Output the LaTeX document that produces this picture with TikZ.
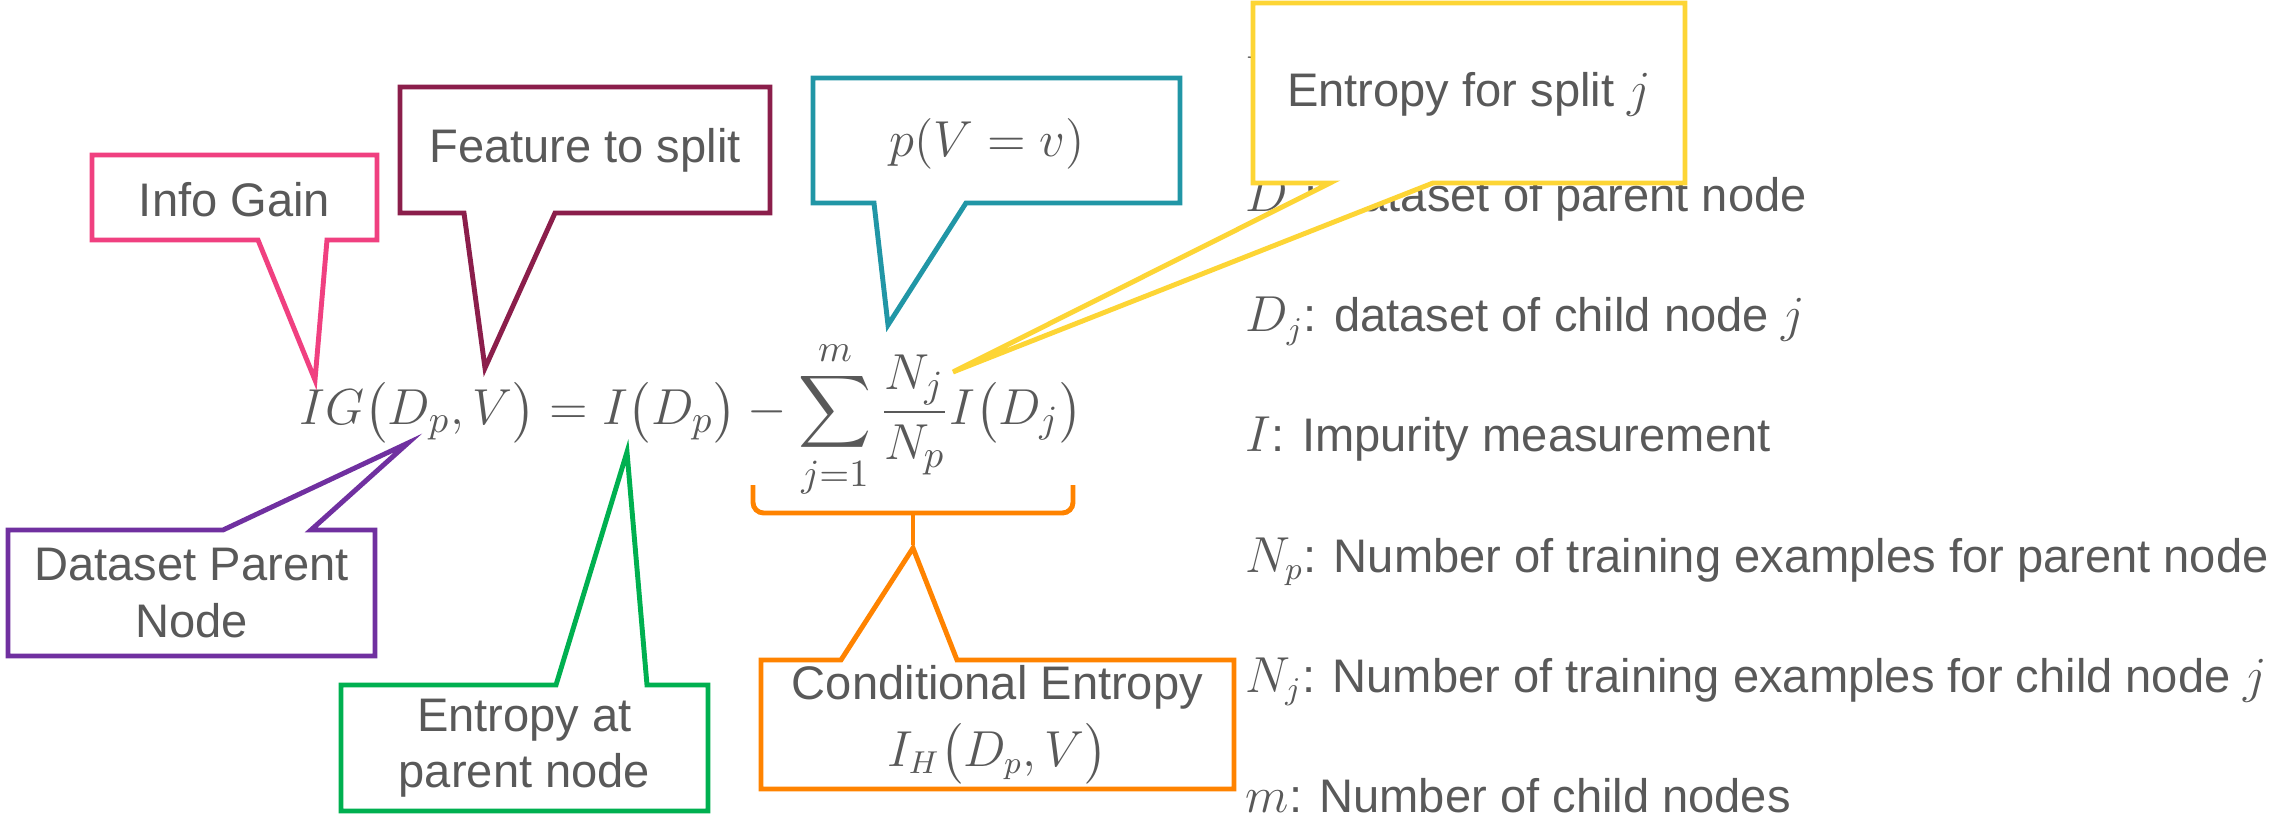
\documentclass[tikz,border=0pt]{standalone}
\usepackage{amsmath}
\usepackage{fontspec}
\setmainfont{Liberation Sans}
\usetikzlibrary{calc}
\definecolor{cInk}{HTML}{595959}
\definecolor{cPink}{HTML}{F04080}
\definecolor{cWine}{HTML}{8B1E4B}
\definecolor{cTeal}{HTML}{2196A6}
\definecolor{cYel}{HTML}{FDD535}
\definecolor{cPurp}{HTML}{7030A0}
\definecolor{cGrn}{HTML}{00B050}
\definecolor{cOrg}{HTML}{FF8300}
\tikzset{
  every node/.style={font=\fontsize{13.4}{16}\selectfont, text=cInk},
  callout/.style={line width=1.4pt, fill=white, line join=miter},
  ctext/.style={align=center, inner sep=0pt},
  legend/.style={anchor=base west, inner sep=0pt},
  brace/.style={line width=1.4pt, draw=cOrg, rounded corners=3pt},
}
\begin{document}
\begin{tikzpicture}[x=1cm,y=1cm]
\useasboundingbox (0,0) rectangle (22.79,8.22);
% ---------------- legend
\foreach \lbl [count=\i] in {{$V$: feature to split},{$D_p$: dataset of parent node},{$D_j$: dataset of child node $j$},{$I$: Impurity measurement},{$N_p$: Number of training examples for parent node},{$N_j$: Number of training examples for child node $j$},{$m$: Number of child nodes}}{
  \node[legend] (leg\i) at (12.45,8.50-1.2*\i) {\lbl};
}

% ---------------- formula
\node[anchor=base west, inner sep=0pt, font=\fontsize{15}{18}\selectfont] (eq) at (2.99,3.97)
  {$IG\bigl(D_p,V\bigr) = I\bigl(D_p\bigr) - \displaystyle\sum_{j=1}^{m}\frac{N_j}{N_p}I\bigl(D_j\bigr)$};
\draw[brace] (7.53,3.37) -- (7.53,3.09) -- (10.73,3.09) -- (10.73,3.37);
\draw[line width=1.4pt, draw=cOrg] (9.13,3.09) -- (9.13,2.77);

% ---------------- callouts above
\coordinate (igtip) at (3.15,4.42);
\draw[callout, draw=cPink] (0.92,6.67) -- (3.77,6.67) -- (3.77,5.82) -- (3.27,5.82) -- (igtip) -- (2.58,5.82) -- (0.92,5.82) -- cycle;
\node[ctext] (ig) at (2.345,6.22) {Info Gain};

\coordinate (feattip) at (4.85,4.54);
\draw[callout, draw=cWine] (4.00,7.35) -- (7.70,7.35) -- (7.70,6.09) -- (5.55,6.09) -- (feattip) -- (4.64,6.09) -- (4.00,6.09) -- cycle;
\node[ctext] (feat) at (5.85,6.72) {Feature to split};

\coordinate (ptip) at (8.88,4.97);
\draw[callout, draw=cTeal] (8.13,7.44) -- (11.80,7.44) -- (11.80,6.19) -- (9.66,6.19) -- (ptip) -- (8.74,6.19) -- (8.13,6.19) -- cycle;
\node[ctext] (pv) at (9.87,6.78) {$p(V=v)$};

\coordinate (splittip) at (9.53,4.50);
\draw[callout, draw=cYel] (12.53,8.19) -- (16.85,8.19) -- (16.85,6.39) -- (14.33,6.39) -- (splittip) -- (13.30,6.39) -- (12.53,6.39) -- cycle;
\node[ctext] (split) at (14.69,7.28) {Entropy for split $j$};

% ---------------- callouts below
\coordinate (dptip) at (4.08,3.79);
\draw[callout, draw=cPurp] (0.08,2.92) -- (2.23,2.92) -- (dptip) -- (3.11,2.92) -- (3.75,2.92) -- (3.75,1.66) -- (0.08,1.66) -- cycle;
\node[ctext] (dp) at (1.915,2.29) {Dataset Parent\\Node};

\coordinate (enttip) at (6.27,3.70);
\draw[callout, draw=cGrn] (3.41,1.37) -- (5.56,1.37) -- (enttip) -- (6.47,1.37) -- (7.08,1.37) -- (7.08,0.11) -- (3.41,0.11) -- cycle;
\node[ctext] (ent) at (5.245,0.74) {Entropy at\\parent node};

\coordinate (condtip) at (9.13,2.74);
\draw[callout, draw=cOrg] (7.61,1.62) -- (8.41,1.62) -- (condtip) -- (9.57,1.62) -- (12.34,1.62) -- (12.34,0.33) -- (7.61,0.33) -- cycle;
\node[ctext] (cond) at (9.975,0.975) {Conditional Entropy\\[3pt]$I_H\bigl(D_p,V\bigr)$};
\end{tikzpicture}
\end{document}
